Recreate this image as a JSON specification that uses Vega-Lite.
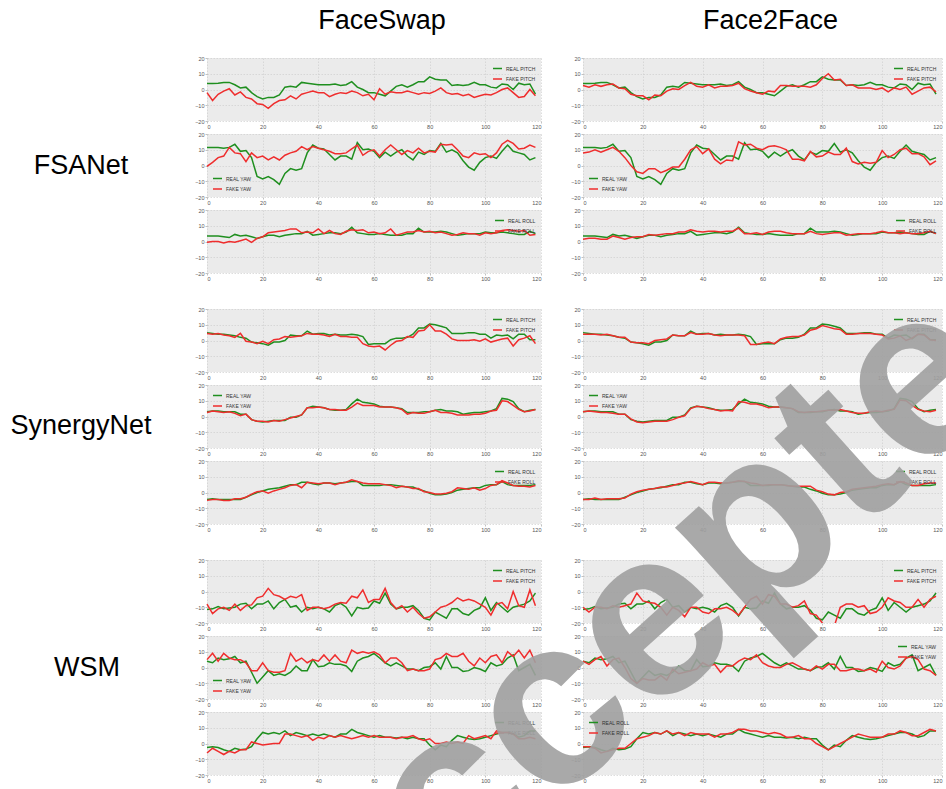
{
"$schema":"https://vega.github.io/schema/vega-lite/v6.json",
"padding":{"left":5,"top":0,"right":0,"bottom":0},
"background":"white",
"data":{"values":[
{"k":"FSANet","a":"PITCH","t":"REAL","m":["FaceSwap","Face2Face"],"x":[0,2,4,6,8,10,12,14,16,18,20,22,24,26,28,30,32,34,36,38,40,42,44,46,48,50,52,54,56,58,60,62,64,66,68,70,72,74,76,78,80,82,84,86,88,90,92,94,96,98,100,102,104,106,108,110,112,114,116,118],"v":[3.8,3.8,4,4.5,4.5,3,1,1.5,-2,-4.5,-6,-5,-5,-3.5,1.5,2,1.5,4.5,4,3.5,3,3,3,3.5,2.5,3,5,1.5,0,-2,-2,-3,-4,-1,2,3,1.5,3,5,5,8,6.5,6,6,2.5,3,2.5,3,4.5,3,3,1.5,1,3.5,3,0,4,3,3.5,-3]},
{"k":"FSANet","a":"YAW","t":"REAL","m":["FaceSwap","Face2Face"],"x":[0,2,4,6,8,10,12,14,16,18,20,22,24,26,28,30,32,34,36,38,40,42,44,46,48,50,52,54,56,58,60,62,64,66,68,70,72,74,76,78,80,82,84,86,88,90,92,94,96,98,100,102,104,106,108,110,112,114,116,118],"v":[11.5,11.5,11.5,11,11.5,13.5,9,9.5,5,-7,-8.5,-7,-9,-12,-5,-2,-3,-2,8,13,11,10.5,7,3.5,6,6,4,14.5,10,10.5,9,5,8.5,6,8.5,10,6,3.5,8.5,7,9.5,9,14,8.5,10,8,3,-1,-3,2,5,6,4.5,9,13,9,8,7,3.5,5]},
{"k":"FSANet","a":"ROLL","t":"REAL","m":["FaceSwap","Face2Face"],"x":[0,2,4,6,8,10,12,14,16,18,20,22,24,26,28,30,32,34,36,38,40,42,44,46,48,50,52,54,56,58,60,62,64,66,68,70,72,74,76,78,80,82,84,86,88,90,92,94,96,98,100,102,104,106,108,110,112,114,116,118],"v":[3.5,3.5,3.5,3,2.5,4.5,3.5,4,3,2,3,4,4,3,4,4.5,5,5,6.5,4,4.5,5,5.5,5.5,5,6,9,5.5,5,4.5,4.5,5,4.5,4,4,4,5,5,8.5,6,6,6,6.5,6,5,4,4.5,5,5,5,6,5.5,5.5,6,5.5,5,4.5,4.5,6.5,5]},
{"k":"SynergyNet","a":"PITCH","t":"REAL","m":["FaceSwap","Face2Face"],"x":[0,2,4,6,8,10,12,14,16,18,20,22,24,26,28,30,32,34,36,38,40,42,44,46,48,50,52,54,56,58,60,62,64,66,68,70,72,74,76,78,80,82,84,86,88,90,92,94,96,98,100,102,104,106,108,110,112,114,116,118],"v":[5,4.5,4,4,3.5,3,2,1.5,-1,-1.5,-2,-3,-1,-1,0,3.5,3,3,6,4,4.5,4.5,3.5,4,3.5,3.5,4,3.5,2.5,-2.5,-2,-2,-2,0.5,1.5,1.5,2,4,8,8,10.5,10,9,8,4.5,4.5,4.5,5,5,4,4,1.5,3.5,3,3.5,1,4,4,0.5,0.5]},
{"k":"SynergyNet","a":"YAW","t":"REAL","m":["FaceSwap","Face2Face"],"x":[0,2,4,6,8,10,12,14,16,18,20,22,24,26,28,30,32,34,36,38,40,42,44,46,48,50,52,54,56,58,60,62,64,66,68,70,72,74,76,78,80,82,84,86,88,90,92,94,96,98,100,102,104,106,108,110,112,114,116,118],"v":[3,3.5,3.5,3,3,3,1.5,1.5,-2,-3,-3.5,-3,-2.5,-2.5,-2.5,-0.5,-0.5,1,5.5,6.5,6,5.5,4.5,4,4,4.5,8,11,9,8.5,8,6.5,6,6,5.5,5,2.5,2.5,2.5,3,3,4,4.5,3.5,3.5,3,1.5,2,2.5,2.5,3,3.5,5,11.5,11,9.5,5,3,4,4.5]},
{"k":"SynergyNet","a":"ROLL","t":"REAL","m":["FaceSwap","Face2Face"],"x":[0,2,4,6,8,10,12,14,16,18,20,22,24,26,28,30,32,34,36,38,40,42,44,46,48,50,52,54,56,58,60,62,64,66,68,70,72,74,76,78,80,82,84,86,88,90,92,94,96,98,100,102,104,106,108,110,112,114,116,118],"v":[-4.5,-4,-4.5,-4.5,-4.5,-4.5,-4.5,-3,-1.5,0,1,2,2.5,3,4,5,5,6.5,6.5,5.5,5,6,6,5.5,6,6.5,7,7,4.5,4.5,4.5,4.5,5,5,4.5,4,3.5,3.5,2,1,-0.5,-1.5,-1.5,-1,0,1.5,2,2.5,3,3,4.5,5,5,7,5,4.5,4.5,4.5,4.5,5]},
{"k":"WSM","a":"PITCH","t":"REAL","m":["FaceSwap","Face2Face"],"x":[0,2,4,6,8,10,12,14,16,18,20,22,24,26,28,30,32,34,36,38,40,42,44,46,48,50,52,54,56,58,60,62,64,66,68,70,72,74,76,78,80,82,84,86,88,90,92,94,96,98,100,102,104,106,108,110,112,114,116,118],"v":[-11.5,-11,-9.5,-11,-10.5,-10,-8,-7.5,-11,-8,-8,-6,-11,-7,-5,-10,-9,-13,-10,-11,-10,-11,-13,-9,-7.5,-10,-15.5,-10,-11,-10.5,-6,-7.5,-1,-8,-11,-10,-10,-9,-12,-17,-18,-13,-15,-17,-11,-11,-14,-15,-12,-10.5,-4,-12,-7,-10,-13,-10,-9,-8,-6,-1]},
{"k":"WSM","a":"YAW","t":"REAL","m":["FaceSwap","Face2Face"],"x":[0,2,4,6,8,10,12,14,16,18,20,22,24,26,28,30,32,34,36,38,40,42,44,46,48,50,52,54,56,58,60,62,64,66,68,70,72,74,76,78,80,82,84,86,88,90,92,94,96,98,100,102,104,106,108,110,112,114,116,118],"v":[4,3,6,5,5.5,7,3,4,-3,-10,-6,-2,-5,-4,-5,-3,1,-2,-2,5,0.5,1,3,2,2,1,-2.5,4,6,7,9,6,3,1,3,1,-1,-1,-2,0,0.5,3,-1,7,0,0,-2.5,-2,0,-1,-2.5,3,1,2,6,8,-2,0,2,-5]},
{"k":"WSM","a":"ROLL","t":"REAL","m":["FaceSwap","Face2Face"],"x":[0,2,4,6,8,10,12,14,16,18,20,22,24,26,28,30,32,34,36,38,40,42,44,46,48,50,52,54,56,58,60,62,64,66,68,70,72,74,76,78,80,82,84,86,88,90,92,94,96,98,100,102,104,106,108,110,112,114,116,118],"v":[-2.5,-2,-2.5,-4,-5,-3,-4,-3.5,-2,3,7,6,7,6,8,5,7,6,5,6,5,6,5,4,6,6,9,7,6,5,4,5,4,4,3.5,4,3,4,3,3,-1,-4,-1,-2,2,5,4,3,2.5,3,4,5,6,7,7,6,4,5,8,8]},
{"k":"FSANet","a":"PITCH","t":"FAKE","m":["FaceSwap"],"x":[0,2,4,6,8,10,12,14,16,18,20,22,24,26,28,30,32,34,36,38,40,42,44,46,48,50,52,54,56,58,60,62,64,66,68,70,72,74,76,78,80,82,84,86,88,90,92,94,96,98,100,102,104,106,108,110,112,114,116,118],"v":[-2,-7,-3,-1,0.5,-3.5,-1.5,-5,-6,-9,-9.5,-12,-9,-7,-6.5,-4,-6,-3,-2,-1,-2,-2,-4.5,-3,-2,-2.5,-1,-2,-4,-3,-6.5,0.5,-3,-1.5,-2,-2,-1,-2,-3,-2,-2.5,-1,1,-2,-3,-2.5,-4,-3,-5,-4,-3,-3.5,-2,0,1,-2,-5,-4.5,0,-4]},
{"k":"FSANet","a":"PITCH","t":"FAKE","m":["Face2Face"],"x":[0,2,4,6,8,10,12,14,16,18,20,22,24,26,28,30,32,34,36,38,40,42,44,46,48,50,52,54,56,58,60,62,64,66,68,70,72,74,76,78,80,82,84,86,88,90,92,94,96,98,100,102,104,106,108,110,112,114,116,118],"v":[2.5,1.5,3,2,3,3.5,1,0.5,-3,-4,-4,-6.5,-3.5,-4,-1,0.5,0,2.5,4.5,2,1.5,3,1,2,2,2.5,4,0.5,-1,-2,-3,-1,-1.5,2.5,2.5,2,2,2,1.5,3,7,10,6,6.5,2.5,3,1,1,1,0,1,-1.5,1,0,1.5,-3,-1,1,1.5,-1.5]},
{"k":"FSANet","a":"YAW","t":"FAKE","m":["FaceSwap"],"x":[0,2,4,6,8,10,12,14,16,18,20,22,24,26,28,30,32,34,36,38,40,42,44,46,48,50,52,54,56,58,60,62,64,66,68,70,72,74,76,78,80,82,84,86,88,90,92,94,96,98,100,102,104,106,108,110,112,114,116,118],"v":[-0.5,2,5,6,11.5,8,7.5,2.5,8,5,6,3.5,5.5,3.5,6.5,8,9,12,10,12,11,10,9,7.5,7.5,8,10.5,13,6.5,9,10,6,10,13,10,7,9.5,8,11,8,9,8.5,13.5,13,13.5,10,6,5,8,7,7.5,5,8,13.5,16,14,10.5,11,13,11.5]},
{"k":"FSANet","a":"YAW","t":"FAKE","m":["Face2Face"],"x":[0,2,4,6,8,10,12,14,16,18,20,22,24,26,28,30,32,34,36,38,40,42,44,46,48,50,52,54,56,58,60,62,64,66,68,70,72,74,76,78,80,82,84,86,88,90,92,94,96,98,100,102,104,106,108,110,112,114,116,118],"v":[8,8.5,10,8.5,10,11.5,9,5,0,-4,-5,-2,-2,-4.5,-3,-1,-1,4,10,12,7.5,10.5,4,1,3.5,3,15,13,13.5,11,10,12,12.5,11.5,10,4,4,3,9,5.5,6,8.5,7,7,11,2.5,1,2,1.5,2,9.5,5,7,10,11,7.5,7.5,5.5,0.5,3]},
{"k":"FSANet","a":"ROLL","t":"FAKE","m":["FaceSwap"],"x":[0,2,4,6,8,10,12,14,16,18,20,22,24,26,28,30,32,34,36,38,40,42,44,46,48,50,52,54,56,58,60,62,64,66,68,70,72,74,76,78,80,82,84,86,88,90,92,94,96,98,100,102,104,106,108,110,112,114,116,118],"v":[-0.5,0,0,-1,0,-0.5,0.5,1.5,-0.5,2,3,5.5,6,6.5,7,8,8,5.5,6,5.5,8,5,7,5,4.5,6.5,7.5,7,7.5,5.5,6,5,5.5,8,4,5,6,6,7,6,6.5,5.5,6,5,4,4.5,5.5,5,5,4,5.5,5,5.5,7,7.5,7,6.5,7,4,4.5]},
{"k":"FSANet","a":"ROLL","t":"FAKE","m":["Face2Face"],"x":[0,2,4,6,8,10,12,14,16,18,20,22,24,26,28,30,32,34,36,38,40,42,44,46,48,50,52,54,56,58,60,62,64,66,68,70,72,74,76,78,80,82,84,86,88,90,92,94,96,98,100,102,104,106,108,110,112,114,116,118],"v":[1.5,2,2,1.5,1.5,3.5,2.5,1.5,2.5,3,3,4.5,4,4.5,5,5,6,6,7.5,6.5,6,6.5,6.5,6,6.5,6.5,8.5,5,5,5.5,4.5,6,6.5,6.5,5.5,5,5,5,6.5,5,4.5,5,5.5,5.5,4,4.5,5,5,5,5.5,6.5,5.5,5.5,5,5.5,5,5,5.5,6.5,5]},
{"k":"SynergyNet","a":"PITCH","t":"FAKE","m":["FaceSwap"],"x":[0,2,4,6,8,10,12,14,16,18,20,22,24,26,28,30,32,34,36,38,40,42,44,46,48,50,52,54,56,58,60,62,64,66,68,70,72,74,76,78,80,82,84,86,88,90,92,94,96,98,100,102,104,106,108,110,112,114,116,118],"v":[4.5,4,4.5,3.5,3,2,4.5,-0.5,-1,-2,-0.5,-2,0.5,1,2.5,2,2.5,3,4.5,4,4,3.5,2.5,4,2.5,2.5,2,2,-2,-3.5,-4,-3.5,-6,-3,-0.5,0,2.5,2,6,6.5,10,6,6,4,1,0,0,0,0.5,-0.5,1,-1,0,1,1.5,-3.5,0.5,1.5,3,-2]},
{"k":"SynergyNet","a":"PITCH","t":"FAKE","m":["Face2Face"],"x":[0,2,4,6,8,10,12,14,16,18,20,22,24,26,28,30,32,34,36,38,40,42,44,46,48,50,52,54,56,58,60,62,64,66,68,70,72,74,76,78,80,82,84,86,88,90,92,94,96,98,100,102,104,106,108,110,112,114,116,118],"v":[4,4,4,3.5,4,3,2,2,-1,-1.5,-1.5,-2,0,0.5,1,3.5,3,3,5,4,4,4.5,3.5,3,3.5,3.5,3.5,3,-2.5,-2.5,-1.5,-1,-2,1,2,2.5,2.5,3.5,6.5,7.5,9.5,8.5,7.5,7,4,4,4.5,4.5,4.5,4,3.5,1,1.5,3,0,1.5,4,3.5,0.5,0]},
{"k":"SynergyNet","a":"YAW","t":"FAKE","m":["FaceSwap"],"x":[0,2,4,6,8,10,12,14,16,18,20,22,24,26,28,30,32,34,36,38,40,42,44,46,48,50,52,54,56,58,60,62,64,66,68,70,72,74,76,78,80,82,84,86,88,90,92,94,96,98,100,102,104,106,108,110,112,114,116,118],"v":[2.5,3.5,3,2.5,3,2,0.5,1.5,-2,-3,-3,-3.5,-2.5,-3,-2,-1,0,1,5.5,5.5,6,5.5,4.5,4.5,4,4,6,8.5,7,7,7,6,6,6,5.5,4.5,1.5,2.5,2,2,3,4,2.5,2.5,2,1,1,1,1.5,1.5,2,3.5,4,10,9.5,7,4.5,3,3.5,4.5]},
{"k":"SynergyNet","a":"YAW","t":"FAKE","m":["Face2Face"],"x":[0,2,4,6,8,10,12,14,16,18,20,22,24,26,28,30,32,34,36,38,40,42,44,46,48,50,52,54,56,58,60,62,64,66,68,70,72,74,76,78,80,82,84,86,88,90,92,94,96,98,100,102,104,106,108,110,112,114,116,118],"v":[3,3.5,3,2.5,2.5,2,1.5,1.5,-1.5,-3.5,-4,-3.5,-3,-3,-3,-2,-0.5,0.5,5,6.5,6,5,4.5,3.5,4,3.5,9.5,9,8,8,7,5.5,6,6,5.5,5,3,2.5,3,3,3.5,4,4,4.5,3.5,2.5,2,2,3,3.5,3,4,4.5,10.5,10,7,4.5,3.5,3,4]},
{"k":"SynergyNet","a":"ROLL","t":"FAKE","m":["FaceSwap"],"x":[0,2,4,6,8,10,12,14,16,18,20,22,24,26,28,30,32,34,36,38,40,42,44,46,48,50,52,54,56,58,60,62,64,66,68,70,72,74,76,78,80,82,84,86,88,90,92,94,96,98,100,102,104,106,108,110,112,114,116,118],"v":[-5,-4.5,-4.5,-5,-5,-4,-4,-3,-1,0.5,1,-0.5,1,2,3,4.5,5,3,6.5,6,5.5,6,6,5,6,6.5,8,7,6,5.5,5.5,5.5,5,4.5,3,4,3.5,2.5,2.5,0.5,0,-1,-1,-0.5,0.5,3,2.5,2,3,1.5,2.5,4.5,5,7.5,6,4.5,4,4,3.5,4.5]},
{"k":"SynergyNet","a":"ROLL","t":"FAKE","m":["Face2Face"],"x":[0,2,4,6,8,10,12,14,16,18,20,22,24,26,28,30,32,34,36,38,40,42,44,46,48,50,52,54,56,58,60,62,64,66,68,70,72,74,76,78,80,82,84,86,88,90,92,94,96,98,100,102,104,106,108,110,112,114,116,118],"v":[-4.5,-4.5,-3.5,-4.5,-4,-4,-4,-3.5,-1,0.5,1.5,2,2.5,3.5,3.5,4.5,5.5,6,7,6,5,6.5,6.5,6,6,6.5,7.5,7,6,5.5,4.5,5,5,5,4.5,4,4,4,4,1.5,0.5,-1,-1.5,0,0.5,2,2.5,3,3.5,4,5,5.5,5,7,6,4.5,4.5,5.5,6,6]},
{"k":"WSM","a":"PITCH","t":"FAKE","m":["FaceSwap"],"x":[0,2,4,6,8,10,12,14,16,18,20,22,24,26,28,30,32,34,36,38,40,42,44,46,48,50,52,54,56,58,60,62,64,66,68,70,72,74,76,78,80,82,84,86,88,90,92,94,96,98,100,102,104,106,108,110,112,114,116,118],"v":[-8,-14,-11,-10,-12,-8,-12,-9,-8.5,-4,-3,2,-2,-3,-5,-3,-4,-2,-12,-10,-10,-11,-10,-8,-7,-7.5,-3,-4,1,-7,-5,-5,2,-7,-11,-9,-13,-10,-14,-17,-16,-13,-10,-9,-7,-4,-6,-5,-6,-8,-10,-15,-8,-7,-11,0,-9,-10,1,-9]},
{"k":"WSM","a":"PITCH","t":"FAKE","m":["Face2Face"],"x":[0,2,4,6,8,10,12,14,16,18,20,22,24,26,28,30,32,34,36,38,40,42,44,46,48,50,52,54,56,58,60,62,64,66,68,70,72,74,76,78,80,82,84,86,88,90,92,94,96,98,100,102,104,106,108,110,112,114,116,118],"v":[-10,-13,-10,-10,-11,-9,-10,-9,-8,-1,-6,-7,-7.5,-10,-15,-10,-12,-16,-10,-10,-13,-14,-11,-11,-10,-12,-15,-10,-5,-3,-8,-2,-3,-8,-8,-10,-9,-6,-14,-15,-20,-24,-22,-10,-8,-8,-10,-9,-14,-13,-10,-4,-6,-7,-10,-10,-5,-10,-5,-3]},
{"k":"WSM","a":"YAW","t":"FAKE","m":["FaceSwap"],"x":[0,2,4,6,8,10,12,14,16,18,20,22,24,26,28,30,32,34,36,38,40,42,44,46,48,50,52,54,56,58,60,62,64,66,68,70,72,74,76,78,80,82,84,86,88,90,92,94,96,98,100,102,104,106,108,110,112,114,116,118],"v":[5,9,4,9,6,5,5,3,-2,-2,3,-2,-3,-3,-2,9,4,6,3,5,4,8,4,8,4,3,11,9,10,9,10,8,3,6,6,3,-2,-1,-2,-2,-1,5,6,9,7,7,9,4,1,6,3,7,8,3,10,7,11,6,11,3]},
{"k":"WSM","a":"YAW","t":"FAKE","m":["Face2Face"],"x":[0,2,4,6,8,10,12,14,16,18,20,22,24,26,28,30,32,34,36,38,40,42,44,46,48,50,52,54,56,58,60,62,64,66,68,70,72,74,76,78,80,82,84,86,88,90,92,94,96,98,100,102,104,106,108,110,112,114,116,118],"v":[4,2,5,7,1,5,6,0,-7,-10,-7,-8,-8,-5,-8,-1,-4,-3,-2,-1,3,1,2,-3,1,1,4,6,5,8,3,1,0,0,2,3,1,-1,-2,1,-1,2,2,-2,-2,-1,-1,-2,-1,-3,4,0,-1,1,6,7,5,-1,-2,-5]},
{"k":"WSM","a":"ROLL","t":"FAKE","m":["FaceSwap"],"x":[0,2,4,6,8,10,12,14,16,18,20,22,24,26,28,30,32,34,36,38,40,42,44,46,48,50,52,54,56,58,60,62,64,66,68,70,72,74,76,78,80,82,84,86,88,90,92,94,96,98,100,102,104,106,108,110,112,114,116,118],"v":[-6,-3,-5,-7,-5,-6,-4,-4,1,0,-1,-0.5,0,0,6,6,5,4,5,2,4,3,5,4,5,4,3,4,5,4,5,4,4,4,3,4,4,5,3,2,3,0,0,1,0,1,0,5,3,4,5,3,8,7,7,6,3,3,4,3]},
{"k":"WSM","a":"ROLL","t":"FAKE","m":["Face2Face"],"x":[0,2,4,6,8,10,12,14,16,18,20,22,24,26,28,30,32,34,36,38,40,42,44,46,48,50,52,54,56,58,60,62,64,66,68,70,72,74,76,78,80,82,84,86,88,90,92,94,96,98,100,102,104,106,108,110,112,114,116,118],"v":[-2,-2,-3,-6,-5,-4,-3,-3,0,3,4,5,7,6,8,6,7,5,7,6,6,6,4,6,6,7,9,9,8,8,7,6,7,6,4,4,5,3,3,0,-2,-4,-2,0,2,4,6,5,4,4,4,6,6,8,7,5,5,7,9,8]}
]},
"transform":[{"flatten":["x","v"]},{"flatten":["m"]}],
"columns":3,
"align":"each",
"bounds":"flush",
"spacing":{"row":13,"column":42},
"resolve":{"scale":{"color":"independent"},"legend":{"color":"independent"}},
"concat":[
{"width":160,"height":45,"data":{"values":[{}]},"mark":{"type":"text","text":""}},
{"width":334,"height":45,"data":{"values":[{"s":"FaceSwap"}]},"mark":{"type":"text","fontSize":27,"dx":8,"dy":-2,"color":"#000"},"encoding":{"text":{"field":"s"}}},
{"width":359,"height":45,"data":{"values":[{"s":"Face2Face"}]},"mark":{"type":"text","fontSize":27,"dx":8,"dy":-2,"color":"#000"},"encoding":{"text":{"field":"s"}}},

{"width":10,"height":10,"data":{"values":[{}]},"mark":{"type":"text","text":""}},
{"width":334,"height":63,"view":{"fill":"#ebebeb"},"transform":[{"filter":"datum.k=='FSANet'&&datum.m=='FaceSwap'&&datum.a=='PITCH'"}],"mark":{"type":"line","strokeWidth":1.5},"encoding":{"x":{"field":"x","type":"quantitative","title":null,"scale":{"domain":[0,120],"nice":false}},"y":{"field":"v","type":"quantitative","title":null,"scale":{"domain":[-20,20]}},"color":{"field":"t","type":"nominal","title":null,"scale":{"domain":["REAL","FAKE"],"range":["#1f8f1f","#ef2d2d"]},"legend":{"orient":"top-right","labelExpr":"datum.label+' PITCH'"}}}},
{"width":359,"height":63,"view":{"fill":"#ebebeb"},"transform":[{"filter":"datum.k=='FSANet'&&datum.m=='Face2Face'&&datum.a=='PITCH'"}],"mark":{"type":"line","strokeWidth":1.5},"encoding":{"x":{"field":"x","type":"quantitative","title":null,"scale":{"domain":[0,120],"nice":false}},"y":{"field":"v","type":"quantitative","title":null,"scale":{"domain":[-20,20]}},"color":{"field":"t","type":"nominal","title":null,"scale":{"domain":["REAL","FAKE"],"range":["#1f8f1f","#ef2d2d"]},"legend":{"orient":"top-right","labelExpr":"datum.label+' PITCH'"}}}},

{"width":160,"height":63,"data":{"values":[{"s":"FSANet"}]},"mark":{"type":"text","fontSize":27,"dx":-4,"color":"#000"},"encoding":{"text":{"field":"s"}}},
{"width":334,"height":63,"view":{"fill":"#ebebeb"},"transform":[{"filter":"datum.k=='FSANet'&&datum.m=='FaceSwap'&&datum.a=='YAW'"}],"mark":{"type":"line","strokeWidth":1.5},"encoding":{"x":{"field":"x","type":"quantitative","title":null,"scale":{"domain":[0,120],"nice":false}},"y":{"field":"v","type":"quantitative","title":null,"scale":{"domain":[-20,20]}},"color":{"field":"t","type":"nominal","title":null,"scale":{"domain":["REAL","FAKE"],"range":["#1f8f1f","#ef2d2d"]},"legend":{"orient":"bottom-left","labelExpr":"datum.label+' YAW'"}}}},
{"width":359,"height":63,"view":{"fill":"#ebebeb"},"transform":[{"filter":"datum.k=='FSANet'&&datum.m=='Face2Face'&&datum.a=='YAW'"}],"mark":{"type":"line","strokeWidth":1.5},"encoding":{"x":{"field":"x","type":"quantitative","title":null,"scale":{"domain":[0,120],"nice":false}},"y":{"field":"v","type":"quantitative","title":null,"scale":{"domain":[-20,20]}},"color":{"field":"t","type":"nominal","title":null,"scale":{"domain":["REAL","FAKE"],"range":["#1f8f1f","#ef2d2d"]},"legend":{"orient":"bottom-left","labelExpr":"datum.label+' YAW'"}}}},

{"width":10,"height":10,"data":{"values":[{}]},"mark":{"type":"text","text":""}},
{"width":334,"height":63,"view":{"fill":"#ebebeb"},"transform":[{"filter":"datum.k=='FSANet'&&datum.m=='FaceSwap'&&datum.a=='ROLL'"}],"mark":{"type":"line","strokeWidth":1.5},"encoding":{"x":{"field":"x","type":"quantitative","title":null,"scale":{"domain":[0,120],"nice":false}},"y":{"field":"v","type":"quantitative","title":null,"scale":{"domain":[-20,20]}},"color":{"field":"t","type":"nominal","title":null,"scale":{"domain":["REAL","FAKE"],"range":["#1f8f1f","#ef2d2d"]},"legend":{"orient":"top-right","labelExpr":"datum.label+' ROLL'"}}}},
{"width":359,"height":63,"view":{"fill":"#ebebeb"},"transform":[{"filter":"datum.k=='FSANet'&&datum.m=='Face2Face'&&datum.a=='ROLL'"}],"mark":{"type":"line","strokeWidth":1.5},"encoding":{"x":{"field":"x","type":"quantitative","title":null,"scale":{"domain":[0,120],"nice":false}},"y":{"field":"v","type":"quantitative","title":null,"scale":{"domain":[-20,20]}},"color":{"field":"t","type":"nominal","title":null,"scale":{"domain":["REAL","FAKE"],"range":["#1f8f1f","#ef2d2d"]},"legend":{"orient":"top-right","labelExpr":"datum.label+' ROLL'"}}}},

{"width":10,"height":10,"data":{"values":[{}]},"mark":{"type":"text","text":""}},
{"width":10,"height":10,"data":{"values":[{}]},"mark":{"type":"text","text":""}},
{"width":10,"height":10,"data":{"values":[{}]},"mark":{"type":"text","text":""}},

{"width":10,"height":10,"data":{"values":[{}]},"mark":{"type":"text","text":""}},
{"width":334,"height":63,"view":{"fill":"#ebebeb"},"transform":[{"filter":"datum.k=='SynergyNet'&&datum.m=='FaceSwap'&&datum.a=='PITCH'"}],"mark":{"type":"line","strokeWidth":1.5},"encoding":{"x":{"field":"x","type":"quantitative","title":null,"scale":{"domain":[0,120],"nice":false}},"y":{"field":"v","type":"quantitative","title":null,"scale":{"domain":[-20,20]}},"color":{"field":"t","type":"nominal","title":null,"scale":{"domain":["REAL","FAKE"],"range":["#1f8f1f","#ef2d2d"]},"legend":{"orient":"top-right","labelExpr":"datum.label+' PITCH'"}}}},
{"width":359,"height":63,"view":{"fill":"#ebebeb"},"transform":[{"filter":"datum.k=='SynergyNet'&&datum.m=='Face2Face'&&datum.a=='PITCH'"}],"mark":{"type":"line","strokeWidth":1.5},"encoding":{"x":{"field":"x","type":"quantitative","title":null,"scale":{"domain":[0,120],"nice":false}},"y":{"field":"v","type":"quantitative","title":null,"scale":{"domain":[-20,20]}},"color":{"field":"t","type":"nominal","title":null,"scale":{"domain":["REAL","FAKE"],"range":["#1f8f1f","#ef2d2d"]},"legend":{"orient":"top-right","labelExpr":"datum.label+' PITCH'"}}}},

{"width":160,"height":63,"data":{"values":[{"s":"SynergyNet"}]},"mark":{"type":"text","fontSize":27,"dx":-4,"dy":9,"color":"#000"},"encoding":{"text":{"field":"s"}}},
{"width":334,"height":63,"view":{"fill":"#ebebeb"},"transform":[{"filter":"datum.k=='SynergyNet'&&datum.m=='FaceSwap'&&datum.a=='YAW'"}],"mark":{"type":"line","strokeWidth":1.5},"encoding":{"x":{"field":"x","type":"quantitative","title":null,"scale":{"domain":[0,120],"nice":false}},"y":{"field":"v","type":"quantitative","title":null,"scale":{"domain":[-20,20]}},"color":{"field":"t","type":"nominal","title":null,"scale":{"domain":["REAL","FAKE"],"range":["#1f8f1f","#ef2d2d"]},"legend":{"orient":"top-left","labelExpr":"datum.label+' YAW'"}}}},
{"width":359,"height":63,"view":{"fill":"#ebebeb"},"transform":[{"filter":"datum.k=='SynergyNet'&&datum.m=='Face2Face'&&datum.a=='YAW'"}],"mark":{"type":"line","strokeWidth":1.5},"encoding":{"x":{"field":"x","type":"quantitative","title":null,"scale":{"domain":[0,120],"nice":false}},"y":{"field":"v","type":"quantitative","title":null,"scale":{"domain":[-20,20]}},"color":{"field":"t","type":"nominal","title":null,"scale":{"domain":["REAL","FAKE"],"range":["#1f8f1f","#ef2d2d"]},"legend":{"orient":"top-left","labelExpr":"datum.label+' YAW'"}}}},

{"width":10,"height":10,"data":{"values":[{}]},"mark":{"type":"text","text":""}},
{"width":334,"height":63,"view":{"fill":"#ebebeb"},"transform":[{"filter":"datum.k=='SynergyNet'&&datum.m=='FaceSwap'&&datum.a=='ROLL'"}],"mark":{"type":"line","strokeWidth":1.5},"encoding":{"x":{"field":"x","type":"quantitative","title":null,"scale":{"domain":[0,120],"nice":false}},"y":{"field":"v","type":"quantitative","title":null,"scale":{"domain":[-20,20]}},"color":{"field":"t","type":"nominal","title":null,"scale":{"domain":["REAL","FAKE"],"range":["#1f8f1f","#ef2d2d"]},"legend":{"orient":"top-right","labelExpr":"datum.label+' ROLL'"}}}},
{"width":359,"height":63,"view":{"fill":"#ebebeb"},"transform":[{"filter":"datum.k=='SynergyNet'&&datum.m=='Face2Face'&&datum.a=='ROLL'"}],"mark":{"type":"line","strokeWidth":1.5},"encoding":{"x":{"field":"x","type":"quantitative","title":null,"scale":{"domain":[0,120],"nice":false}},"y":{"field":"v","type":"quantitative","title":null,"scale":{"domain":[-20,20]}},"color":{"field":"t","type":"nominal","title":null,"scale":{"domain":["REAL","FAKE"],"range":["#1f8f1f","#ef2d2d"]},"legend":{"orient":"top-right","labelExpr":"datum.label+' ROLL'"}}}},

{"width":10,"height":10,"data":{"values":[{}]},"mark":{"type":"text","text":""}},
{"width":10,"height":10,"data":{"values":[{}]},"mark":{"type":"text","text":""}},
{"width":10,"height":10,"data":{"values":[{}]},"mark":{"type":"text","text":""}},

{"width":10,"height":10,"data":{"values":[{}]},"mark":{"type":"text","text":""}},
{"width":334,"height":63,"view":{"fill":"#ebebeb"},"transform":[{"filter":"datum.k=='WSM'&&datum.m=='FaceSwap'&&datum.a=='PITCH'"}],"mark":{"type":"line","strokeWidth":1.5},"encoding":{"x":{"field":"x","type":"quantitative","title":null,"scale":{"domain":[0,120],"nice":false}},"y":{"field":"v","type":"quantitative","title":null,"scale":{"domain":[-20,20]}},"color":{"field":"t","type":"nominal","title":null,"scale":{"domain":["REAL","FAKE"],"range":["#1f8f1f","#ef2d2d"]},"legend":{"orient":"top-right","labelExpr":"datum.label+' PITCH'"}}}},
{"width":359,"height":63,"view":{"fill":"#ebebeb"},"transform":[{"filter":"datum.k=='WSM'&&datum.m=='Face2Face'&&datum.a=='PITCH'"}],"mark":{"type":"line","strokeWidth":1.5,"clip":true},"encoding":{"x":{"field":"x","type":"quantitative","title":null,"scale":{"domain":[0,120],"nice":false}},"y":{"field":"v","type":"quantitative","title":null,"scale":{"domain":[-20,20]}},"color":{"field":"t","type":"nominal","title":null,"scale":{"domain":["REAL","FAKE"],"range":["#1f8f1f","#ef2d2d"]},"legend":{"orient":"top-right","labelExpr":"datum.label+' PITCH'"}}}},

{"width":160,"height":63,"data":{"values":[{"s":"WSM"}]},"mark":{"type":"text","fontSize":27,"dx":2,"color":"#000"},"encoding":{"text":{"field":"s"}}},
{"width":334,"height":63,"view":{"fill":"#ebebeb"},"transform":[{"filter":"datum.k=='WSM'&&datum.m=='FaceSwap'&&datum.a=='YAW'"}],"mark":{"type":"line","strokeWidth":1.5},"encoding":{"x":{"field":"x","type":"quantitative","title":null,"scale":{"domain":[0,120],"nice":false}},"y":{"field":"v","type":"quantitative","title":null,"scale":{"domain":[-20,20]}},"color":{"field":"t","type":"nominal","title":null,"scale":{"domain":["REAL","FAKE"],"range":["#1f8f1f","#ef2d2d"]},"legend":{"orient":"bottom-left","labelExpr":"datum.label+' YAW'"}}}},
{"width":359,"height":63,"view":{"fill":"#ebebeb"},"transform":[{"filter":"datum.k=='WSM'&&datum.m=='Face2Face'&&datum.a=='YAW'"}],"mark":{"type":"line","strokeWidth":1.5},"encoding":{"x":{"field":"x","type":"quantitative","title":null,"scale":{"domain":[0,120],"nice":false}},"y":{"field":"v","type":"quantitative","title":null,"scale":{"domain":[-20,20]}},"color":{"field":"t","type":"nominal","title":null,"scale":{"domain":["REAL","FAKE"],"range":["#1f8f1f","#ef2d2d"]},"legend":{"orient":"top-right","labelExpr":"datum.label+' YAW'"}}}},

{"width":10,"height":10,"data":{"values":[{}]},"mark":{"type":"text","text":""}},
{"width":334,"height":63,"view":{"fill":"#ebebeb"},"transform":[{"filter":"datum.k=='WSM'&&datum.m=='FaceSwap'&&datum.a=='ROLL'"}],"mark":{"type":"line","strokeWidth":1.5},"encoding":{"x":{"field":"x","type":"quantitative","title":null,"scale":{"domain":[0,120],"nice":false}},"y":{"field":"v","type":"quantitative","title":null,"scale":{"domain":[-20,20]}},"color":{"field":"t","type":"nominal","title":null,"scale":{"domain":["REAL","FAKE"],"range":["#1f8f1f","#ef2d2d"]},"legend":{"orient":"top-right","labelExpr":"datum.label+' ROLL'"}}}},
{"width":359,"height":63,"view":{"fill":"#ebebeb"},"layer":[
{"transform":[{"filter":"datum.k=='WSM'&&datum.m=='Face2Face'&&datum.a=='ROLL'"}],"mark":{"type":"line","strokeWidth":1.5},"encoding":{"x":{"field":"x","type":"quantitative","title":null,"scale":{"domain":[0,120],"nice":false}},"y":{"field":"v","type":"quantitative","title":null,"scale":{"domain":[-20,20]}},"color":{"field":"t","type":"nominal","title":null,"scale":{"domain":["REAL","FAKE"],"range":["#1f8f1f","#ef2d2d"]},"legend":{"orient":"top-left","labelExpr":"datum.label+' ROLL'"}}}},
{"data":{"values":[{"w":"Accepted","wx":46.8,"wy":56.2}]},"mark":{"type":"text","fontSize":240,"fontWeight":"bold","angle":-42,"align":"center","baseline":"alphabetic","color":"#a0a0a0","opacity":0.9},"encoding":{"x":{"field":"wx","type":"quantitative"},"y":{"field":"wy","type":"quantitative"},"text":{"field":"w"}}}
]}
],
"config":{
"font":"Liberation Sans",
"view":{"stroke":null},
"axis":{"domain":false,"grid":true,"gridColor":"#cfcfcf","gridDash":[1.5,1.5],"gridWidth":0.7,"labelFontSize":5.5,"labelColor":"#555555","tickColor":"#999999","tickSize":2,"tickWidth":0.6,"labelPadding":1},
"axisX":{"tickCount":6},
"axisY":{"tickCount":4},
"legend":{"symbolType":"stroke","symbolSize":81,"symbolStrokeWidth":1.5,"labelFontSize":5,"labelColor":"#333333","rowPadding":1.5,"padding":2,"offset":3,"labelOffset":3}
}
}
